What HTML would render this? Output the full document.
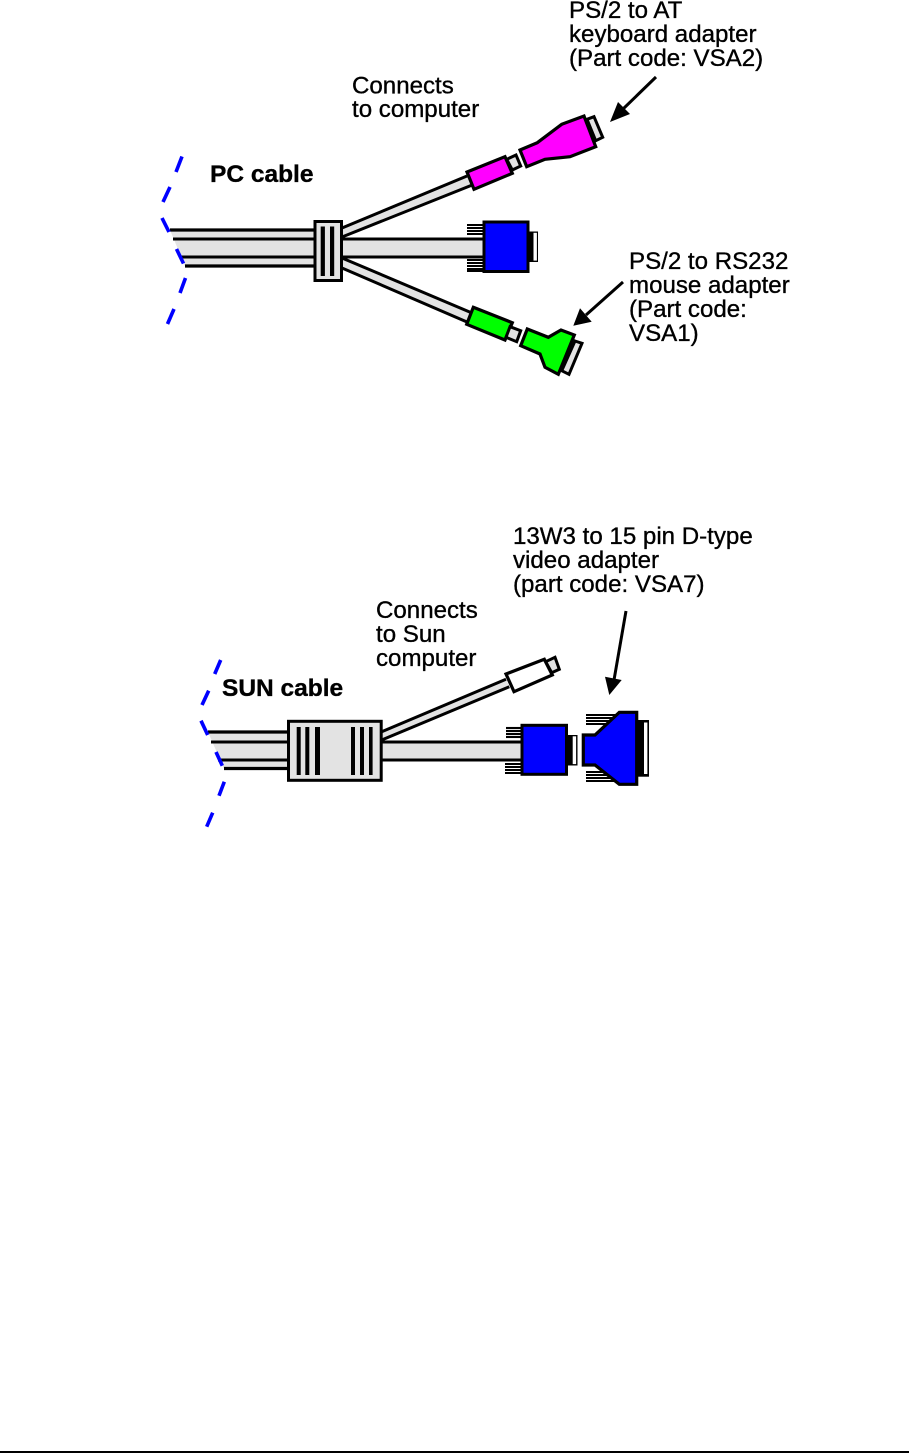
<!DOCTYPE html>
<html>
<head>
<meta charset="utf-8">
<style>
html,body{margin:0;padding:0;background:#fff;}
svg{display:block;}
text{font-family:"Liberation Sans",Arial,sans-serif;font-size:24.1px;fill:#000;stroke:#000;stroke-width:0.35px;}
text.b{font-weight:bold;font-size:24.5px;}
.l{stroke:#000;stroke-width:3;fill:none;}
.t{stroke:#000;stroke-width:3.2;fill:none;}
.g{fill:#e3e3e3;stroke:#000;stroke-width:3;stroke-linejoin:miter;}
.d{stroke:#0000ff;stroke-width:3.6;fill:none;}
.p{stroke:#000;stroke-width:2.1;}
</style>
</head>
<body>
<svg width="909" height="1453" viewBox="0 0 909 1453" xmlns="http://www.w3.org/2000/svg">
<!-- PC labels -->
<text x="569" y="18">PS/2 to AT</text>
<text x="569" y="42">keyboard adapter</text>
<text x="569" y="66">(Part code: VSA2)</text>
<text x="352" y="93.5">Connects</text>
<text x="352" y="117">to computer</text>
<text class="b" x="210" y="182">PC cable</text>
<text x="629" y="269">PS/2 to RS232</text>
<text x="629" y="293">mouse adapter</text>
<text x="629" y="317">(Part code:</text>
<text x="629" y="341">VSA1)</text>

<!-- PC main cable -->
<polygon points="170,230 185,266 315,266 315,230" fill="#e3e3e3"/>
<line class="t" x1="170" y1="230" x2="315" y2="230"/>
<line class="l" x1="173" y1="239" x2="315" y2="239"/>
<line class="l" x1="181" y1="257" x2="315" y2="257"/>
<line class="t" x1="185" y1="266" x2="315" y2="266"/>

<!-- PC branches -->
<polygon points="342,228 467,176 471,186 342,237" fill="#e3e3e3"/>
<line class="l" x1="342" y1="228" x2="467" y2="176"/>
<line class="l" x1="342" y1="237" x2="471" y2="185.5"/>
<rect x="342" y="239" width="142" height="18" fill="#e3e3e3"/>
<line class="l" x1="342" y1="239" x2="484" y2="239"/>
<line class="l" x1="342" y1="257" x2="484" y2="257"/>
<polygon points="342,258 472,313 467,322 342,268" fill="#e3e3e3"/>
<line class="l" x1="342" y1="258" x2="472" y2="313"/>
<line class="l" x1="342" y1="268" x2="467" y2="322"/>

<!-- PC clamp -->
<rect class="g" x="315" y="221.5" width="26.5" height="59"/>
<rect x="320.7" y="226.5" width="4.2" height="49.5" fill="#000"/>
<rect x="330" y="226.5" width="4.2" height="49.5" fill="#000"/>

<!-- PC dashes -->
<g class="d">
<line x1="182" y1="156.5" x2="176" y2="172"/>
<line x1="170" y1="187" x2="163" y2="202"/>
<line x1="162" y1="218" x2="169" y2="232"/>
<line x1="176.5" y1="249" x2="183.5" y2="263.5"/>
<line x1="185.5" y1="278" x2="180" y2="293"/>
<line x1="174" y1="309" x2="167.5" y2="324"/>
</g>

<!-- PC top connector -->
<polygon fill="#ff00ff" stroke="#000" stroke-width="3.2" points="467,172 505,156.7 512.3,173.3 474,189.3"/>
<polygon class="g" points="506.7,159.3 516,155 520.7,166 512.3,170"/>
<polygon fill="#ff00ff" stroke="#000" stroke-width="3.2" points="520,150 537.3,142.7 561.7,124.3 584,116 595.7,146.7 570,156.7 545,159.3 526.7,166.7"/>
<polygon class="g" points="587,119.3 594,116.7 602.7,137.3 595.7,140.7"/>

<!-- PC VGA connector -->
<g class="p">
<line x1="467" y1="225" x2="484" y2="225"/><line x1="467" y1="228" x2="484" y2="228"/><line x1="467" y1="231" x2="484" y2="231"/><line x1="467" y1="234" x2="484" y2="234"/>
<line x1="467" y1="260" x2="484" y2="260"/><line x1="467" y1="263" x2="484" y2="263"/><line x1="467" y1="266" x2="484" y2="266"/><line x1="467" y1="269" x2="484" y2="269"/><line x1="467" y1="271" x2="484" y2="271"/>
</g>
<rect x="527" y="231.5" width="11" height="30.5" fill="#000"/>
<rect x="533.5" y="232.8" width="3.4" height="27.8" fill="#fff"/>
<rect x="484" y="222" width="44" height="49.5" fill="#0000ff" stroke="#000" stroke-width="3"/>

<!-- PC bottom connector -->
<polygon fill="#00ff00" stroke="#000" stroke-width="3.2" points="473.3,307.3 512.3,322.7 505,340 466.7,324.3"/>
<polygon class="g" points="510,326.7 520.7,330.7 516.7,341.7 506,337.3"/>
<polygon class="g" points="575,341 582,343.3 569,374.3 561.7,370.7"/>
<polygon fill="#00ff00" stroke="#000" stroke-width="3.2" points="527.3,329 548.3,337.3 561,330 574.3,335 558.3,374.3 545,367.3 540,354 520.7,345.7"/>

<!-- PC arrows -->
<line x1="656" y1="77" x2="622" y2="110" stroke="#000" stroke-width="3"/>
<polygon points="610,122 618,102 630,114" fill="#000"/>
<line x1="623" y1="282" x2="586" y2="315" stroke="#000" stroke-width="3"/>
<polygon points="573.3,325.7 580,308.3 591.7,321.7" fill="#000"/>

<!-- SUN labels -->
<text x="513" y="544">13W3 to 15 pin D-type</text>
<text x="513" y="568">video adapter</text>
<text x="513" y="592">(part code: VSA7)</text>
<text x="376" y="618">Connects</text>
<text x="376" y="642">to Sun</text>
<text x="376" y="666">computer</text>
<text class="b" x="222" y="696">SUN cable</text>

<!-- SUN main cable -->
<polygon points="208,732 224,768.5 289,768.5 289,732" fill="#e3e3e3"/>
<line class="t" x1="208" y1="732" x2="289" y2="732"/>
<line class="l" x1="211" y1="742" x2="289" y2="742"/>
<line class="l" x1="218" y1="760" x2="289" y2="760"/>
<line class="t" x1="224" y1="768.5" x2="289" y2="768.5"/>

<!-- SUN branches -->
<polygon points="381.7,731.7 506,679.3 509.3,686.7 381.7,740" fill="#e3e3e3"/>
<line class="l" x1="381.7" y1="731.7" x2="506" y2="679.3"/>
<line class="l" x1="381.7" y1="740" x2="509.3" y2="686.7"/>
<rect x="382" y="742" width="140" height="18" fill="#e3e3e3"/>
<line class="l" x1="382" y1="742" x2="522" y2="742"/>
<line class="l" x1="382" y1="760" x2="522" y2="760"/>

<!-- SUN box -->
<rect class="g" x="288.5" y="721.3" width="92.7" height="59"/>
<rect x="296.7" y="727" width="4" height="48" fill="#000"/>
<rect x="305.3" y="727" width="4" height="48" fill="#000"/>
<rect x="315" y="727" width="5" height="48" fill="#000"/>
<rect x="351" y="727" width="4" height="48" fill="#000"/>
<rect x="360" y="727" width="4" height="48" fill="#000"/>
<rect x="369" y="727" width="3.6" height="48" fill="#000"/>

<!-- SUN dashes -->
<g class="d">
<line x1="220.7" y1="660" x2="214.7" y2="674"/>
<line x1="208.7" y1="690.7" x2="202" y2="705"/>
<line x1="201" y1="720.7" x2="207.7" y2="735"/>
<line x1="216" y1="752" x2="222.3" y2="765.7"/>
<line x1="224.3" y1="781.7" x2="219" y2="795.7"/>
<line x1="212.7" y1="812.7" x2="206.7" y2="826.7"/>
</g>

<!-- SUN white connector -->
<polygon fill="#fff" stroke="#000" stroke-width="3.2" points="506,674 544.3,659.3 552.3,675 514,691.7"/>
<polygon class="g" points="545.7,661.7 555,657.3 559.3,669.3 551.7,672.7"/>

<!-- SUN VGA connector -->
<g class="p">
<line x1="506" y1="728" x2="522" y2="728"/><line x1="506" y1="731" x2="522" y2="731"/><line x1="506" y1="734" x2="522" y2="734"/><line x1="506" y1="737" x2="522" y2="737"/>
<line x1="505" y1="764" x2="522" y2="764"/><line x1="505" y1="767" x2="522" y2="767"/><line x1="505" y1="770" x2="522" y2="770"/><line x1="505" y1="773" x2="522" y2="773"/>
</g>
<rect x="566" y="735" width="11.5" height="30.5" fill="#000"/>
<rect x="572.7" y="736.3" width="3.4" height="27.8" fill="#fff"/>
<rect x="522" y="725.3" width="44.5" height="49" fill="#0000ff" stroke="#000" stroke-width="3"/>

<!-- SUN adapter -->
<g class="p">
<line x1="586" y1="715" x2="617" y2="715"/><line x1="586" y1="718" x2="614" y2="718"/><line x1="586" y1="721" x2="611" y2="721"/><line x1="586" y1="724" x2="608" y2="724"/>
<line x1="586" y1="772" x2="608" y2="772"/><line x1="586" y1="775" x2="611" y2="775"/><line x1="586" y1="778" x2="614" y2="778"/><line x1="586" y1="781" x2="617" y2="781"/>
</g>
<rect x="636" y="720" width="13" height="56.7" fill="#000"/>
<rect x="644" y="722.5" width="3.4" height="51.5" fill="#fff"/>
<polygon fill="#0000ff" stroke="#000" stroke-width="3.2" points="583.3,735 595,735 619.3,712.3 636.7,712.3 636.7,784.3 619.3,784.3 595,765 583.3,765"/>

<!-- SUN arrow -->
<line x1="626" y1="611" x2="614" y2="680" stroke="#000" stroke-width="3"/>
<polygon points="609.3,695 605,676.7 621.7,680" fill="#000"/>

<!-- Bottom rule -->
<rect x="0" y="1451" width="909" height="2" fill="#000"/>
</svg>
</body>
</html>
